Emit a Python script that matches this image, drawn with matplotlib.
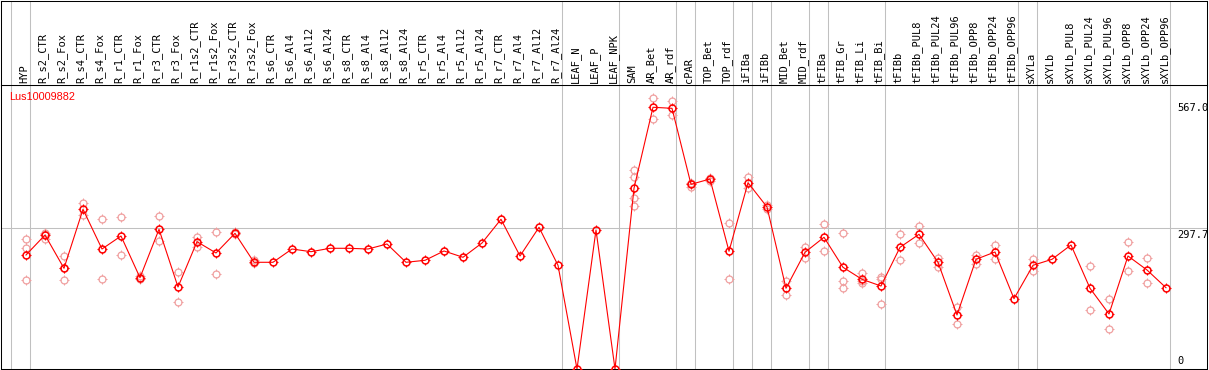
import matplotlib.pyplot as plt
from matplotlib.path import Path
from matplotlib.transforms import offset_copy

# sample names (one column each)
samples = ['HYP', 'R_s2_CTR', 'R_s2_Fox', 'R_s4_CTR', 'R_s4_Fox', 'R_r1_CTR', 'R_r1_Fox',
           'R_r3_CTR', 'R_r3_Fox', 'R_r1s2_CTR', 'R_r1s2_Fox', 'R_r3s2_CTR', 'R_r3s2_Fox',
           'R_s6_CTR', 'R_s6_Al4', 'R_s6_Al12', 'R_s6_Al24', 'R_s8_CTR', 'R_s8_Al4',
           'R_s8_Al12', 'R_s8_Al24', 'R_r5_CTR', 'R_r5_Al4', 'R_r5_Al12', 'R_r5_Al24',
           'R_r7_CTR', 'R_r7_Al4', 'R_r7_Al12', 'R_r7_Al24', 'LEAF_N', 'LEAF_P', 'LEAF_NPK',
           'SAM', 'AR_Bet', 'AR_rdf', 'cPAR', 'TOP_Bet', 'TOP_rdf', 'iFIBa', 'iFIBb',
           'MID_Bet', 'MID_rdf', 'tFIBa', 'tFIB_Gr', 'tFIB_Li', 'tFIB_Bi', 'tFIBb',
           'tFIBb_PUL8', 'tFIBb_PUL24', 'tFIBb_PUL96', 'tFIBb_OPP8', 'tFIBb_OPP24', 'tFIBb_OPP96',
           'sXYLa', 'sXYLb', 'sXYLb_PUL8', 'sXYLb_PUL24', 'sXYLb_PUL96', 'sXYLb_OPP8',
           'sXYLb_OPP24', 'sXYLb_OPP96']

# sizes of the sample groups (gray separators between them)
group_sizes = [1, 28, 3, 3, 1, 2, 1, 1, 2, 1, 3, 7, 1, 7]

# mean expression per sample
means = [241.2, 283.5, 213.1, 337.9, 253.9, 281.4, 193.2, 295.6, 173.5, 269.4, 245.5, 287.1,
         225.8, 225.8, 253.9, 248.2, 255.4, 255.4, 253.9, 264.5, 225.8, 230.0, 249.7, 236.4,
         266.6, 316.8, 239.1, 299.8, 219.4, 0.0, 294.1, 0.0, 382.4, 553.8, 551.6, 390.8,
         402.0, 249.1, 394.2, 342.8, 170.8, 246.9, 278.7, 215.2, 189.8, 175.6, 257.5, 285.0,
         225.8, 114.3, 232.1, 247.6, 148.8, 219.4, 232.1, 262.4, 170.8, 116.4, 239.1, 209.5,
         172.0]

# individual replicates (empty = only one value)
replicates = [
    [275.1, 256.0, 188.3], [287.8, 285.7, 275.1], [238.5, 214.0, 188.3], [351.9, 325.9],
    [316.8, 190.4], [321.6, 240.6], [196.8, 189.8], [323.1, 270.8], [205.9, 141.1],
    [279.3, 258.8], [289.3, 200.4], [289.9, 285.7], [230.6, 223.7],
    [], [], [], [], [], [], [], [], [], [], [], [], [], [], [], [],
    [], [], [],
    [421.1, 405.6, 361.2, 344.9], [572.8, 528.4], [566.5, 536.8], [393.6, 385.7],
    [404.8, 397.8], [308.3, 189.8], [406.9, 383.6], [347.0, 338.6], [186.2, 155.9],
    [258.8, 234.2], [306.2, 249.1], [287.1, 186.8, 170.8], [202.5, 186.2, 181.3],
    [194.0, 191.1, 136.9], [285.7, 230.0], [302.0, 266.0], [235.5, 215.8], [131.8, 95.2],
    [241.9, 222.8], [261.7, 233.4], [], [232.8, 206.7], [], [], [217.3, 124.2],
    [147.5, 84.0], [268.1, 207.4], [234.9, 181.3], [],
]

gene = 'Lus10009882'
y_max_label = 567.0
y_mid_label = 297.7

# small outward ticks around the circles
ticks = Path([(0, 0.72), (0, 1), (0, -0.72), (0, -1), (0.72, 0), (1, 0), (-0.72, 0), (-1, 0)],
             [Path.MOVETO, Path.LINETO] * 4)

W, H = 1209, 370
fig = plt.figure(figsize=(W / 100, H / 100), dpi=100)
ax = fig.add_axes([1 / W, 1 / H, 1206 / W, 284 / H])
ax_lab = fig.add_axes([1 / W, 285 / H, 1206 / W, 84.5 / H], sharex=ax)

x = list(range(len(samples)))
ax.set_xlim(-25 / 19, 1181 / 19)
ax.set_ylim(0, 284 / 0.4726)
ax_lab.set_ylim(0, 1)

for a in (ax, ax_lab):
    a.set_xticks([])
    a.set_yticks([])
    for s in a.spines.values():
        s.set_linewidth(0.75)
        s.set_color('black')

# group separators
edge = -1
bounds = [edge + 4 / 19]
for g in group_sizes:
    edge += g
    bounds.append(edge + 4 / 19)
for b in bounds:
    ax.axvline(b, color='#c0c0c0', lw=0.75, zorder=0)
    ax_lab.axvline(b, color='#c0c0c0', lw=0.75, zorder=0)

ax.axhline(y_mid_label, color='#c0c0c0', lw=0.75, zorder=0)

# replicates
rx, ry = [], []
for i, reps in enumerate(replicates):
    for v in reps:
        rx.append(i)
        ry.append(v)
pink = '#f0a0a0'
ax.plot(rx, ry, ls='none', marker='o', ms=5, mfc='none', mec=pink, mew=0.9, zorder=2)
ax.plot(rx, ry, ls='none', marker=ticks, ms=6.6, mec=pink, mew=0.7, zorder=2)

# means
ax.plot(x, means, color='red', lw=0.8, zorder=3)
ax.plot(x, means, ls='none', marker='o', ms=5, mfc='none', mec='red', mew=1.1, zorder=4)
ax.plot(x, means, ls='none', marker=ticks, ms=6.6, mec='red', mew=0.8, zorder=4)

# column labels
for i, name in enumerate(samples):
    ax_lab.text(i - 2 / 19, 2 / 84.5, name, rotation=90, ha='center', va='bottom',
                family='DejaVu Sans Mono', fontsize=7.5, color='black')

ax.text(8 / 1206, 0.958, gene, transform=ax.transAxes, color='red',
        family='Liberation Sans', fontsize=7.8, va='center', ha='left')

# scale labels on the right
down = offset_copy(ax.transData, fig=fig, x=0, y=-2, units='dots')
up = offset_copy(ax.transData, fig=fig, x=0, y=3, units='dots')
xr = 1151 / 19
ax.text(xr, y_max_label, f'{y_max_label:.1f}', transform=down, va='top', ha='left',
        family='DejaVu Sans Mono', fontsize=7.5, clip_on=True)
ax.text(xr, y_mid_label, f'{y_mid_label:.1f}', transform=down, va='top', ha='left',
        family='DejaVu Sans Mono', fontsize=7.5, clip_on=True)
ax.text(xr, 0, '0', transform=up, va='bottom', ha='left',
        family='DejaVu Sans Mono', fontsize=7.5, clip_on=True)

fig.savefig('out.png', dpi=100)
